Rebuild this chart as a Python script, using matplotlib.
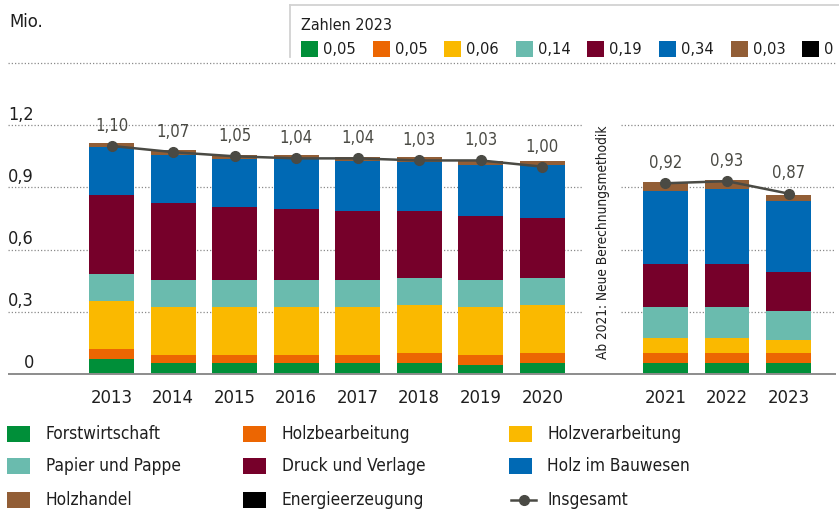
import matplotlib
matplotlib.use("Agg")
import matplotlib.pyplot as plt
import matplotlib.font_manager as fm
from matplotlib.patches import Rectangle
from matplotlib.lines import Line2D

# ---------------- data ----------------
years = [2013, 2014, 2015, 2016, 2017, 2018, 2019, 2020, 2021, 2022, 2023]
categories = ["Forstwirtschaft", "Holzbearbeitung", "Holzverarbeitung",
              "Papier und Pappe", "Druck und Verlage", "Holz im Bauwesen",
              "Holzhandel", "Energieerzeugung"]
forstwirtschaft = [0.072, 0.053, 0.053, 0.053, 0.053, 0.053, 0.043, 0.053, 0.053, 0.053, 0.053]
holzbearbeitung = [0.049, 0.039, 0.039, 0.039, 0.039, 0.048, 0.049, 0.048, 0.048, 0.048, 0.048]
holzverarbeitung = [0.232, 0.232, 0.232, 0.232, 0.232, 0.232, 0.232, 0.232, 0.075, 0.075, 0.065]
papier_pappe = [0.130, 0.130, 0.130, 0.130, 0.130, 0.131, 0.130, 0.131, 0.148, 0.148, 0.138]
druck_verlage = [0.382, 0.372, 0.353, 0.343, 0.334, 0.324, 0.310, 0.290, 0.208, 0.208, 0.189]
holz_bauwesen = [0.232, 0.232, 0.229, 0.239, 0.238, 0.235, 0.243, 0.256, 0.352, 0.362, 0.343]
holzhandel = [0.019, 0.020, 0.022, 0.022, 0.023, 0.026, 0.022, 0.019, 0.044, 0.043, 0.029]
energieerzeugung = [0, 0, 0, 0, 0, 0, 0, 0, 0, 0, 0]
insgesamt = [1.10, 1.07, 1.05, 1.04, 1.04, 1.03, 1.03, 1.00, 0.92, 0.93, 0.87]
zahlen_2023 = ["0,05", "0,05", "0,06", "0,14", "0,19", "0,34", "0,03", "0"]
y_ticks = [0, 0.3, 0.6, 0.9, 1.2]
y_tick_labels = ["0", "0,3", "0,6", "0,9", "1,2"]
method_year = 2021

series = [forstwirtschaft, holzbearbeitung, holzverarbeitung, papier_pappe,
          druck_verlage, holz_bauwesen, holzhandel, energieerzeugung]
colors = ["#008f39", "#ec6602", "#fab900", "#6abbae", "#76002a", "#0069b4",
          "#925e36", "#000000"]
line_color = "#4a4a44"
text_color = "#1e1e1e"

# ---------------- font ----------------
names = {f.name for f in fm.fontManager.ttflist}
if "Liberation Sans Narrow" in names:
    FONT = ["Liberation Sans Narrow", "DejaVu Sans"]
    STRETCH = "normal"
else:
    FONT = ["DejaVu Sans"]
    STRETCH = "condensed"
plt.rcParams["font.family"] = FONT
plt.rcParams["font.stretch"] = STRETCH

W, H = 839, 517
fig = plt.figure(figsize=(W / 100, H / 100), dpi=100)

def fx(p):
    return p / W

def fy(p):
    return 1 - p / H

# axes geometry in pixels
ax_l, ax_r, ax_t, ax_b = 8, 836, 63, 374
ax = fig.add_axes([fx(ax_l), fy(ax_b), fx(ax_r) - fx(ax_l), fy(ax_t) - fy(ax_b)])
step = 61.55
x0px = 111.5
ax.set_xlim((ax_l - x0px) / step, (ax_r - x0px) / step)
ax.set_ylim(0, 1.5)
ax.axis("off")

positions = [i + (1 if y >= method_year else 0) for i, y in enumerate(years)]

def px2x(p):
    return (p - x0px) / step

# gridlines
left_seg = (px2x(ax_l), px2x(583))
right_seg = (px2x(621), px2x(ax_r))
for t in y_ticks[1:]:
    for seg in (left_seg, right_seg):
        ax.plot(seg, [t, t], color="#8a8a8a", lw=0.9, ls=(0, (1, 1.6)), zorder=1)
ax.plot((px2x(ax_l), px2x(ax_r)), [1.5, 1.5], color="#8a8a8a", lw=0.9,
        ls=(0, (1, 1.6)), zorder=1, clip_on=False)
ax.plot((px2x(ax_l), px2x(ax_r)), [0, 0], color="#8c8c8c", lw=1.4, zorder=4,
        solid_capstyle="butt", clip_on=False)

# tick labels
for t, lab in zip(y_ticks, y_tick_labels):
    ax.annotate(lab, (px2x(34), t), xytext=(0, 4), textcoords="offset points",
                ha="right", va="baseline", fontsize=13, color=text_color)

# stacked bars
bottom = [0.0] * len(years)
for vals, c in zip(series, colors):
    ax.bar(positions, vals, bottom=bottom, width=0.73, color=c, zorder=2,
           linewidth=0)
    bottom = [b + v for b, v in zip(bottom, vals)]

# total line (two segments, split at method change)
idx_a = [i for i, y in enumerate(years) if y < method_year]
idx_b = [i for i, y in enumerate(years) if y >= method_year]
for idx in (idx_a, idx_b):
    ax.plot([positions[i] for i in idx], [insgesamt[i] for i in idx],
            color=line_color, lw=1.8, marker="o", ms=7, zorder=5)

for p, v in zip(positions, insgesamt):
    ax.annotate(f"{v:.2f}".replace(".", ","), (p, v), xytext=(0, 14.5),
                textcoords="offset points", ha="center", va="center",
                fontsize=12, color="#4a4a44", zorder=6)

# year labels
for p, y in zip(positions, years):
    ax.annotate(str(y), (p, 0), xytext=(0, -21), textcoords="offset points",
                ha="center", va="baseline", fontsize=13.2, color=text_color,
                annotation_clip=False)

# method note
gap_pos = positions[idx_b[0]] - 1
ax.text(gap_pos - 0.02, (ax_b - 242) / 207.3, "Ab 2021: Neue Berechnungsmethodik",
        rotation=90, ha="center", va="center", fontsize=9.8, color=text_color)

# "Mio."
fig.text(fx(9), fy(22), "Mio.", ha="left", va="center", fontsize=13.2,
         color=text_color)

# ---------------- top legend box ----------------
box_c = "#d2d2d2"
fig.add_artist(Line2D([fx(290), fx(W)], [fy(5), fy(5)], color=box_c, lw=1.3))
fig.add_artist(Line2D([fx(290), fx(290)], [fy(5), fy(57)], color=box_c, lw=1.3))
fig.text(fx(301), fy(25), "Zahlen 2023", ha="left", va="center", fontsize=11.5,
         color=text_color)
for i, (c, lab) in enumerate(zip(colors, zahlen_2023)):
    xs = 301 + 71.6 * i
    fig.add_artist(Rectangle((fx(xs), fy(57)), fx(17), 16 / H, color=c, lw=0))
    fig.text(fx(xs + 22), fy(49.5), lab, ha="left", va="center", fontsize=11.8,
             color=text_color)

# ---------------- bottom legend ----------------
col_sq = [7, 243, 509]
col_tx = [45.7, 281.7, 547.3]
row_y = [434, 466, 500]
entries = list(zip(categories, colors)) + [("Insgesamt", None)]
for k, (lab, c) in enumerate(entries):
    r, col = divmod(k, 3)
    yc = row_y[r]
    if c is not None:
        fig.add_artist(Rectangle((fx(col_sq[col]), fy(yc + 8)), fx(23), 16 / H,
                                 color=c, lw=0))
    else:
        fig.add_artist(Line2D([fx(col_sq[col] + 2), fx(col_sq[col] + 27)],
                              [fy(yc), fy(yc)], color=line_color, lw=1.8))
        fig.add_artist(Line2D([fx(col_sq[col] + 14.5)], [fy(yc)], color=line_color,
                              marker="o", ms=7, lw=0))
    fig.text(fx(col_tx[col]), fy(yc), lab, ha="left", va="center", fontsize=12.4,
             color=text_color)

fig.savefig("out.png", dpi=100)
